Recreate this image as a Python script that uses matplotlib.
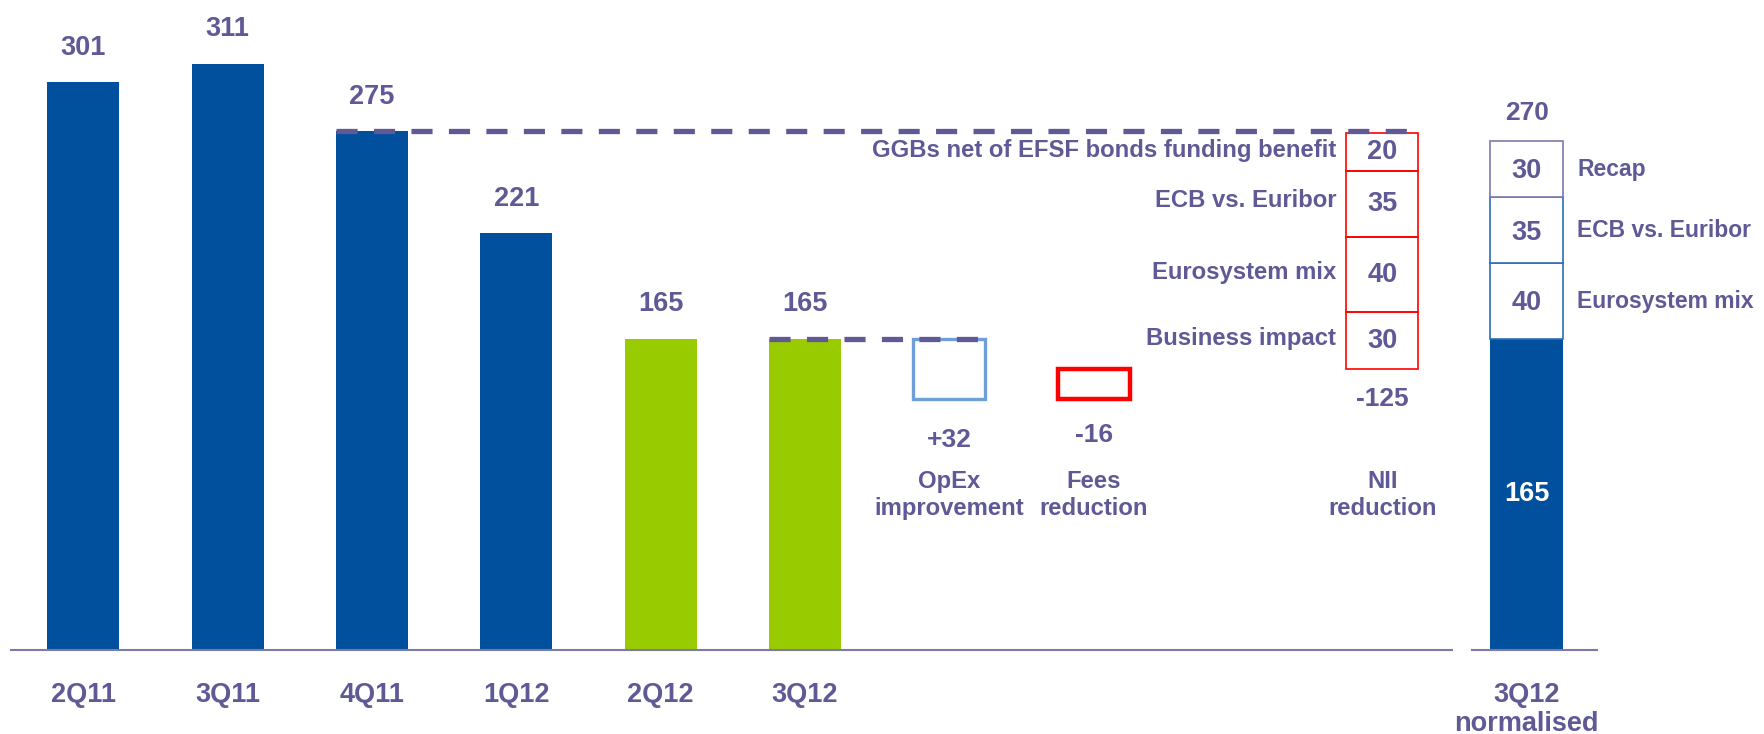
import matplotlib
matplotlib.use("Agg")
import matplotlib.pyplot as plt
from matplotlib.patches import Rectangle

# quarterly bars
quarters = ["2Q11", "3Q11", "4Q11", "1Q12", "2Q12", "3Q12"]
quarter_values = [301, 311, 275, 221, 165, 165]
quarter_colors = ["#00509D", "#00509D", "#00509D", "#00509D", "#99CC00", "#99CC00"]

# bridge steps (floating boxes)
step_labels = ["OpEx\nimprovement", "Fees\nreduction"]
step_texts = ["+32", "-16"]
opex_change = 32
fees_change = 16

# NII reduction split
nii_parts = ["Business impact", "Eurosystem mix", "ECB vs. Euribor", "GGBs net of EFSF bonds funding benefit"]
nii_values = [30, 40, 35, 20]
nii_total_text = "-125"

# normalised 3Q12
norm_base = 165
norm_parts = ["Eurosystem mix", "ECB vs. Euribor", "Recap"]
norm_values = [40, 35, 30]
norm_total = 270

TXT = "#5F5A96"
AXC = "#7E79AB"
BLUE = "#00509D"
FONT = "Liberation Sans"

fig = plt.figure(figsize=(17.64, 7.34), dpi=100)
ax = fig.add_axes([0, 0, 1, 1])
ax.set_xlim(-0.577, 11.645)
ax.set_ylim(-44.8, 344.7)
ax.axis("off")


def label(x, y, s, size=19.5, color=TXT, **kw):
    kw.setdefault("ha", "center")
    kw.setdefault("va", "center")
    ax.text(x, y, s, fontsize=size, fontweight="bold", color=color, family=FONT, **kw)


w = 0.5
x = list(range(len(quarters)))
ax.bar(x, quarter_values, width=w, color=quarter_colors)
for xi, v, q in zip(x, quarter_values, quarters):
    label(xi, v + 14.5, str(v), va="baseline")
    label(xi, -28, q, va="baseline")

# OpEx box: from 3Q12 level down by 32, fees box back up by 16
x_opex, x_fees, x_nii, x_norm = 6, 7, 9, 10
start = quarter_values[-1]
low = start - opex_change
ax.add_patch(Rectangle((x_opex - w / 2, low), w, opex_change, fill=False,
                       edgecolor="#6F9FD8", lw=2.4))
fees_top = low + fees_change
ax.add_patch(Rectangle((x_fees - w / 2, low), w, fees_change, fill=False,
                       edgecolor="#FF0000", lw=3.2))

label(x_opex, 111, step_texts[0], size=19)
label(x_fees, 114, step_texts[1], size=19)
for xs, lab in zip([x_opex, x_fees], step_labels):
    label(xs, 82, lab, size=17.2, linespacing=1.25)

# NII stacked red boxes
bottom = fees_top
for part, v in zip(nii_parts, nii_values):
    ax.add_patch(Rectangle((x_nii - w / 2, bottom), w, v, fill=False,
                           edgecolor="#FF0000", lw=1.2))
    mid = bottom + v / 2
    label(x_nii, mid, str(v), size=19.5)
    label(8.68, mid + (2 if v == 35 else 1), part, size=17.2, ha="right")
    bottom += v
label(x_nii, 133, nii_total_text, size=19)
label(x_nii, 82, "NII\nreduction", size=17.2, linespacing=1.25)

# dashed reference lines
ax.plot([2 - w / 2, 9.2], [quarter_values[2], quarter_values[2]], color="#5F5A96",
        lw=3.8, dashes=(4, 3.1), zorder=3)
ax.plot([5 - w / 2, x_opex + w / 2], [start, start], color="#5F5A96",
        lw=3.8, dashes=(4, 3.1), zorder=3)

# normalised bar
ax.bar(x_norm, norm_base, width=w, color=BLUE)
label(x_norm, norm_base / 2, str(norm_base), color="white")
bottom = norm_base
edge_cols = ["#2F6DB5", "#2F6DB5", "#7E79AB"]
for part, v, ec in zip(norm_parts, norm_values, edge_cols):
    ax.bar(x_norm, v, bottom=bottom, width=w, color="white", edgecolor=ec, lw=1.2)
    mid = bottom + v / 2
    label(x_norm, mid - 5, str(v), va="baseline")
    label(10.35, mid - 3.5, part, size=16.5, ha="left", va="baseline")
    bottom += v
label(x_norm, norm_total + 11, str(norm_total), size=19, va="baseline")
label(x_norm, -28, "3Q12", va="baseline")
label(x_norm, -43.3, "normalised", va="baseline")

# baselines
ax.plot([-0.5, 9.48], [0, 0], color=AXC, lw=1.5, zorder=4)
ax.plot([9.62, 10.49], [0, 0], color=AXC, lw=1.5, zorder=4)

fig.savefig("out.png", dpi=100)
